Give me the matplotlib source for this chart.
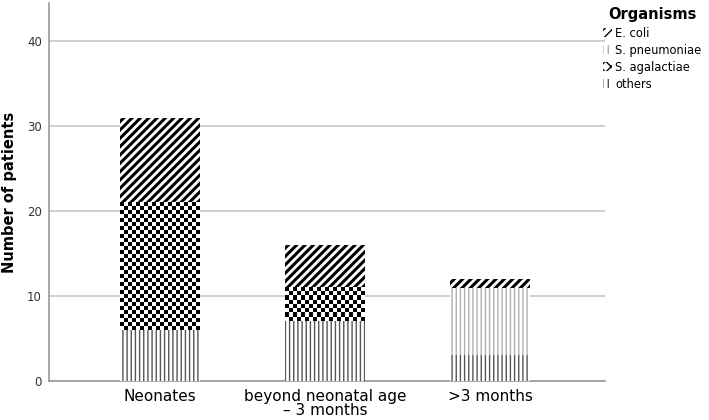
import matplotlib.pyplot as plt
import numpy as np
from matplotlib.patches import Patch

groups = ["Neonates", "beyond neonatal age\n– 3 months", ">3 months"]
others = [6, 7, 3]
agalactiae = [15, 4, 0]
pneumoniae = [0, 0, 8]
ecoli = [10, 5, 1]

plt.rcParams['font.family'] = ['DejaVu Sans']
plt.rcParams['hatch.linewidth'] = 1.0

fig = plt.figure(figsize=(7.09, 4.2), dpi=100)
ax = fig.add_axes([0.069, 0.093, 0.785, 0.9])
ax.set_xlim(-0.673, 2.70)
ax.set_ylim(0, 44.5)

x = np.arange(len(groups))
w = 0.48
b1 = np.array(others)
b2 = b1 + np.array(agalactiae)
b3 = b2 + np.array(pneumoniae)

ax.bar(x, others, w, color='white', edgecolor='#555555', hatch='||||', linewidth=0, zorder=3)
cont = ax.bar(x, agalactiae, w, bottom=b1, color='white', edgecolor='black', linewidth=0, zorder=3)
ax.bar(x, pneumoniae, w, bottom=b2, color='white', edgecolor='#b0b0b0', hatch='||||', linewidth=0, zorder=3)
plt.rcParams['hatch.linewidth'] = 2.2
ax.bar(x, ecoli, w, bottom=b3, color='white', edgecolor='black', hatch='////', linewidth=0, zorder=3)

# checkerboard fill for S. agalactiae
cell = 4.0  # pixels
for p in cont.patches:
    if p.get_height() <= 0:
        continue
    x0, y0 = p.get_x(), p.get_y()
    x1, y1 = x0 + p.get_width(), y0 + p.get_height()
    (px0, py0), (px1, py1) = ax.transData.transform([(x0, y0), (x1, y1)])
    nx = max(1, int(round((px1 - px0) / cell)))
    ny = max(1, int(round((py1 - py0) / cell)))
    img = (np.indices((ny, nx)).sum(axis=0) % 2).astype(float)
    ax.imshow(img, cmap='gray', extent=(x0, x1, y0, y1), aspect='auto',
              interpolation='nearest', zorder=3.5)

ax.set_xticks(x)
ax.set_xticklabels(groups, fontsize=11, linespacing=0.9)
ax.set_yticks([0, 10, 20, 30, 40])
ax.tick_params(axis='y', labelsize=8.5, length=0, pad=5, colors='#333333')
ax.tick_params(axis='x', length=0, pad=6)
ax.yaxis.grid(True, color='#cccccc', linewidth=1.3, zorder=0)
ax.set_axisbelow(True)
for s in ['top', 'right']:
    ax.spines[s].set_visible(False)
for s in ['left', 'bottom']:
    ax.spines[s].set_color('#999999')
    ax.spines[s].set_linewidth(1.2)
ax.set_ylabel("Number of patients", fontsize=10.5, fontweight='bold', labelpad=7)

plt.rcParams['hatch.linewidth'] = 1.0
handles = [Patch(facecolor='white', edgecolor='black', hatch='////', linewidth=0, label='E. coli'),
           Patch(facecolor='white', edgecolor='#aaaaaa', hatch='|||', linewidth=0, label='S. pneumoniae'),
           Patch(facecolor='white', edgecolor='black', hatch='xxx', linewidth=0, label='S. agalactiae'),
           Patch(facecolor='white', edgecolor='#555555', hatch='|||', linewidth=0, label='others')]
leg = fig.legend(handles=handles, title='Organisms', loc='upper right', bbox_to_anchor=(1.0, 1.0),
                 frameon=False, fontsize=8.3, handlelength=0.8, handleheight=0.8,
                 handletextpad=0.25, labelspacing=0.35, borderaxespad=0.25,
                 title_fontproperties={'weight': 'bold', 'size': 10.5})

fig.savefig('out.png', dpi=100)
